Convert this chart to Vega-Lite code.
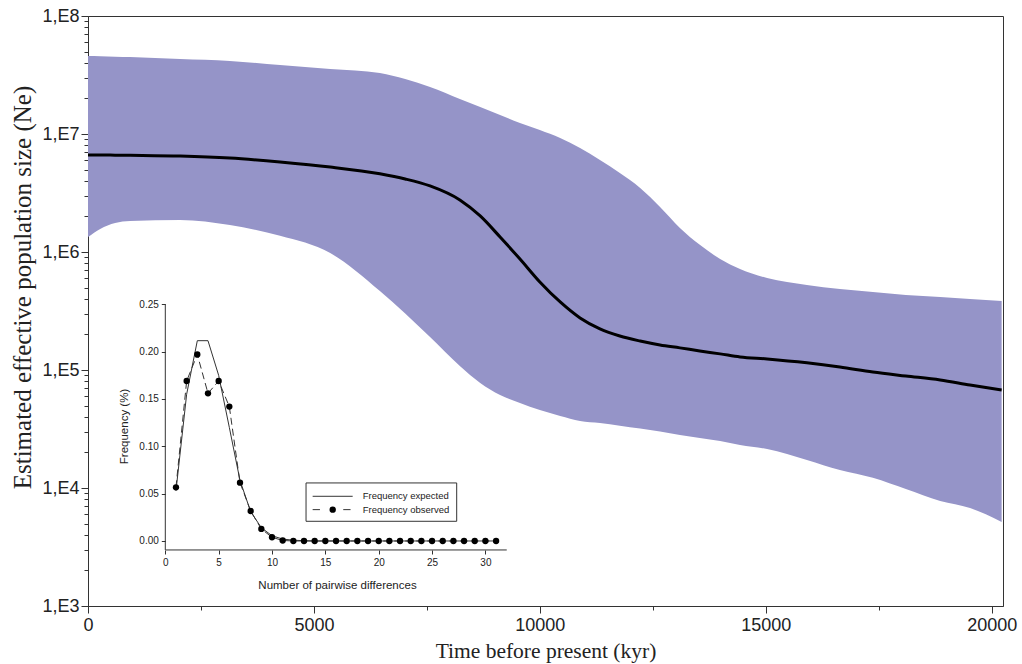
{
  "$schema": "https://vega.github.io/schema/vega-lite/v6.json",
  "width": 915,
  "height": 590,
  "autosize": {"type": "none"},
  "padding": {"left": 88, "top": 16, "right": 19, "bottom": 58},
  "background": "white",
  "config": {
    "view": {"stroke": "#333333", "strokeWidth": 1},
    "axis": {"grid": false, "domainColor": "#333333", "tickColor": "#333333", "labelColor": "#222222", "titleColor": "#222222", "titleFontWeight": "normal"}
  },
  "layer": [
    {
      "data": {
        "values": [
          {"t": 0, "lo": 1340000, "hi": 45800000, "med": 6640000},
          {"t": 270, "lo": 1570000, "hi": 45600000, "med": 6640000},
          {"t": 600, "lo": 1760000, "hi": 45200000, "med": 6620000},
          {"t": 930, "lo": 1830000, "hi": 44900000, "med": 6600000},
          {"t": 2040, "lo": 1870000, "hi": 43200000, "med": 6510000},
          {"t": 3140, "lo": 1690000, "hi": 41600000, "med": 6260000},
          {"t": 4250, "lo": 1370000, "hi": 38400000, "med": 5790000},
          {"t": 5360, "lo": 980000, "hi": 35500000, "med": 5250000},
          {"t": 6460, "lo": 467000, "hi": 32900000, "med": 4600000},
          {"t": 7020, "lo": 301000, "hi": 29200000, "med": 4160000},
          {"t": 7570, "lo": 190000, "hi": 25000000, "med": 3630000},
          {"t": 8230, "lo": 108000, "hi": 19800000, "med": 2760000},
          {"t": 8680, "lo": 77600, "hi": 16900000, "med": 2020000},
          {"t": 9120, "lo": 61400, "hi": 14500000, "med": 1340000},
          {"t": 9560, "lo": 52500, "hi": 12400000, "med": 872000},
          {"t": 10000, "lo": 45800, "hi": 10800000, "med": 557000},
          {"t": 10450, "lo": 40800, "hi": 9250000, "med": 377000},
          {"t": 10890, "lo": 37000, "hi": 7610000, "med": 276000},
          {"t": 11330, "lo": 35500, "hi": 6020000, "med": 223000},
          {"t": 11770, "lo": 33700, "hi": 4670000, "med": 194000},
          {"t": 12220, "lo": 31900, "hi": 3490000, "med": 176000},
          {"t": 12660, "lo": 30100, "hi": 2410000, "med": 163000},
          {"t": 13100, "lo": 28100, "hi": 1600000, "med": 154000},
          {"t": 13540, "lo": 26500, "hi": 1150000, "med": 145000},
          {"t": 13990, "lo": 25000, "hi": 872000, "med": 137000},
          {"t": 14430, "lo": 23100, "hi": 718000, "med": 129000},
          {"t": 15030, "lo": 21400, "hi": 602000, "med": 124000},
          {"t": 15910, "lo": 17300, "hi": 525000, "med": 115000},
          {"t": 16640, "lo": 14200, "hi": 486000, "med": 106000},
          {"t": 17370, "lo": 12200, "hi": 458000, "med": 96200},
          {"t": 18100, "lo": 9800, "hi": 432000, "med": 89000},
          {"t": 18860, "lo": 7760, "hi": 416000, "med": 82300},
          {"t": 19520, "lo": 6770, "hi": 400000, "med": 74600},
          {"t": 20220, "lo": 5150, "hi": 384000, "med": 67700}
        ]
      },
      "layer": [
        {
          "mark": {"type": "area", "color": "#9594c8", "opacity": 1, "interpolate": "monotone"},
          "encoding": {
            "x": {
              "field": "t", "type": "quantitative",
              "scale": {"domain": [0, 20250], "nice": false, "zero": false},
              "axis": {
                "orient": "bottom",
                "values": [0, 2500, 5000, 7500, 10000, 12500, 15000, 17500, 20000],
                "labelExpr": "datum.value % 5000 === 0 ? datum.value : ''",
                "labelFlush": false,
                "labelOverlap": false,
                "labelFont": "Liberation Sans",
                "labelFontSize": 18,
                "labelPadding": 3,
                "tickSize": {"condition": {"test": "datum.value % 5000 === 0", "value": 7}, "value": 4},
                "title": "Time before present (kyr)",
                "titleFont": "Liberation Serif",
                "titleFontSize": 21.5,
                "titlePadding": 6
              }
            },
            "y": {
              "field": "lo", "type": "quantitative",
              "scale": {"type": "log", "domain": [1000, 100000000], "nice": false},
              "axis": {
                "orient": "left",
                "values": [1000, 2000, 3000, 4000, 5000, 6000, 7000, 8000, 9000,
                           10000, 20000, 30000, 40000, 50000, 60000, 70000, 80000, 90000,
                           100000, 200000, 300000, 400000, 500000, 600000, 700000, 800000, 900000,
                           1000000, 2000000, 3000000, 4000000, 5000000, 6000000, 7000000, 8000000, 9000000,
                           10000000, 20000000, 30000000, 40000000, 50000000, 60000000, 70000000, 80000000, 90000000,
                           100000000],
                "labelExpr": "abs(log(datum.value)/LN10 - round(log(datum.value)/LN10)) < 0.0001 ? '1,E' + round(log(datum.value)/LN10) : ''",
                "labelOverlap": false,
                "labelFont": "Liberation Sans",
                "labelFontSize": 18,
                "labelPadding": 2,
                "tickSize": {"condition": {"test": "abs(log(datum.value)/LN10 - round(log(datum.value)/LN10)) < 0.0001", "value": 7}, "value": 4},
                "title": "Estimated effective population size (Ne)",
                "titleFont": "Liberation Serif",
                "titleFontSize": 25,
                "titleY": 271,
                "titlePadding": 6
              }
            },
            "y2": {"field": "hi"}
          }
        },
        {
          "mark": {"type": "line", "color": "black", "strokeWidth": 3, "interpolate": "monotone"},
          "encoding": {
            "x": {"field": "t", "type": "quantitative"},
            "y": {"field": "med", "type": "quantitative"}
          }
        }
      ]
    },
    {
      "data": {
        "values": [
          {"k": 1, "expected": 0.053, "observed": 0.0567},
          {"k": 2, "expected": 0.155, "observed": 0.169},
          {"k": 3, "expected": 0.2116, "observed": 0.197},
          {"k": 4, "expected": 0.2116, "observed": 0.156},
          {"k": 5, "expected": 0.175, "observed": 0.169},
          {"k": 6, "expected": 0.12, "observed": 0.142},
          {"k": 7, "expected": 0.064, "observed": 0.0616},
          {"k": 8, "expected": 0.031, "observed": 0.0317},
          {"k": 9, "expected": 0.014, "observed": 0.0127},
          {"k": 10, "expected": 0.0055, "observed": 0.0039},
          {"k": 11, "expected": 0.002, "observed": 0.0005},
          {"k": 12, "expected": 0.0008, "observed": 0},
          {"k": 13, "expected": 0.0003, "observed": 0},
          {"k": 14, "expected": 0, "observed": 0},
          {"k": 15, "expected": 0, "observed": 0},
          {"k": 16, "expected": 0, "observed": 0},
          {"k": 17, "expected": 0, "observed": 0},
          {"k": 18, "expected": 0, "observed": 0},
          {"k": 19, "expected": 0, "observed": 0},
          {"k": 20, "expected": 0, "observed": 0},
          {"k": 21, "expected": 0, "observed": 0},
          {"k": 22, "expected": 0, "observed": 0},
          {"k": 23, "expected": 0, "observed": 0},
          {"k": 24, "expected": 0, "observed": 0},
          {"k": 25, "expected": 0, "observed": 0},
          {"k": 26, "expected": 0, "observed": 0},
          {"k": 27, "expected": 0, "observed": 0},
          {"k": 28, "expected": 0, "observed": 0},
          {"k": 29, "expected": 0, "observed": 0},
          {"k": 30, "expected": 0, "observed": 0},
          {"k": 31, "expected": 0, "observed": 0}
        ]
      },
      "layer": [
        {
          "mark": {"type": "line", "color": "#333333", "strokeWidth": 1},
          "encoding": {
            "x": {
              "field": "k", "type": "quantitative",
              "scale": {"domain": [-7.245, 78.51], "nice": false, "zero": false},
              "axis": {
                "orient": "bottom",
                "offset": -56,
                "domain": false,
                "values": [0, 5, 10, 15, 20, 25, 30],
                "labelFlush": false,
                "labelFont": "Liberation Sans",
                "labelFontSize": 10,
                "labelPadding": 3,
                "tickSize": 4,
                "title": "Number of pairwise differences",
                "titleFont": "Liberation Sans",
                "titleFontSize": 11.5,
                "titleX": 249,
                "titlePadding": 12
              }
            },
            "y": {
              "field": "expected", "type": "quantitative",
              "scale": {"domain": [-0.0687, 0.5546], "nice": false, "zero": false},
              "axis": {
                "orient": "left",
                "offset": -77.3,
                "domain": false,
                "values": [0, 0.05, 0.1, 0.15, 0.2, 0.25],
                "format": ".2f",
                "labelFont": "Liberation Sans",
                "labelFontSize": 10,
                "labelPadding": 3,
                "tickSize": 4,
                "title": "Frequency (%)",
                "titleFont": "Liberation Sans",
                "titleFontSize": 11.5,
                "titleY": 410,
                "titlePadding": 9
              }
            }
          }
        },
        {
          "mark": {"type": "line", "color": "#333333", "strokeWidth": 1, "strokeDash": [7, 4]},
          "encoding": {
            "x": {"field": "k", "type": "quantitative"},
            "y": {"field": "observed", "type": "quantitative"}
          }
        },
        {
          "mark": {"type": "point", "filled": true, "color": "black", "opacity": 1, "size": 40},
          "encoding": {
            "x": {"field": "k", "type": "quantitative"},
            "y": {"field": "observed", "type": "quantitative"}
          }
        },
        {
          "data": {"values": [{}]},
          "mark": {"type": "rule", "color": "#333333", "strokeWidth": 1},
          "encoding": {
            "x": {"datum": 0, "type": "quantitative"},
            "x2": {"datum": 32},
            "y": {"datum": -0.0095, "type": "quantitative"}
          }
        },
        {
          "data": {"values": [{}]},
          "mark": {"type": "rule", "color": "#333333", "strokeWidth": 1},
          "encoding": {
            "x": {"datum": 0, "type": "quantitative"},
            "y": {"datum": -0.0095, "type": "quantitative"},
            "y2": {"datum": 0.25}
          }
        },
        {
          "data": {"values": [{}]},
          "mark": {"type": "rect", "fill": "white", "stroke": "#333333", "strokeWidth": 1},
          "encoding": {
            "x": {"datum": 13.19, "type": "quantitative"},
            "x2": {"datum": 27.31},
            "y": {"datum": 0.0613, "type": "quantitative"},
            "y2": {"datum": 0.0208}
          }
        },
        {
          "data": {"values": [{}]},
          "mark": {"type": "rule", "color": "#333333", "strokeWidth": 1},
          "encoding": {
            "x": {"datum": 13.81, "type": "quantitative"},
            "x2": {"datum": 17.56},
            "y": {"datum": 0.0472, "type": "quantitative"}
          }
        },
        {
          "data": {"values": [{}]},
          "mark": {"type": "rule", "color": "#333333", "strokeWidth": 1, "strokeDash": [7.3, 23.3]},
          "encoding": {
            "x": {"datum": 13.81, "type": "quantitative"},
            "x2": {"datum": 17.56},
            "y": {"datum": 0.0331, "type": "quantitative"}
          }
        },
        {
          "data": {"values": [{}]},
          "mark": {"type": "point", "filled": true, "color": "black", "opacity": 1, "size": 40},
          "encoding": {
            "x": {"datum": 15.69, "type": "quantitative"},
            "y": {"datum": 0.0331, "type": "quantitative"}
          }
        },
        {
          "data": {"values": [{"label": "Frequency expected", "row": 0.0472}, {"label": "Frequency observed", "row": 0.0331}]},
          "mark": {"type": "text", "align": "left", "baseline": "middle", "font": "Liberation Sans", "fontSize": 9.5, "color": "#222222"},
          "encoding": {
            "x": {"datum": 18.5, "type": "quantitative"},
            "y": {"field": "row", "type": "quantitative"},
            "text": {"field": "label"}
          }
        }
      ]
    }
  ],
  "resolve": {
    "scale": {"x": "independent", "y": "independent"},
    "axis": {"x": "independent", "y": "independent"}
  }
}
